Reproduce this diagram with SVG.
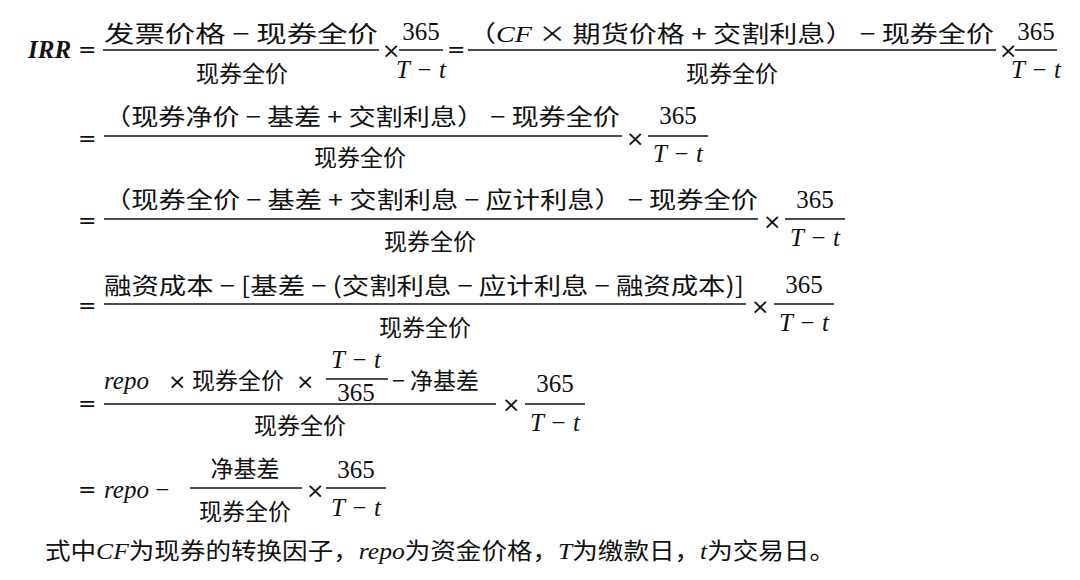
<svg xmlns="http://www.w3.org/2000/svg" width="1080" height="580" viewBox="0 0 1080 580">
<style>
text{font-family:"Liberation Serif","Noto Sans CJK SC",serif;font-size:25px;fill:#111}
.c{font-family:"Noto Sans CJK SC","Liberation Sans",sans-serif;font-size:23px}
.o{font-family:"DejaVu Sans",sans-serif;font-size:22px}
.i{font-style:italic}
.m{text-anchor:middle}
line{stroke:#111;stroke-width:1.6}
</style>
<rect width="1080" height="580" fill="#fff"/>
<g id="line1">
<text x="28" y="58" font-weight="bold" font-style="italic" font-size="26">IRR</text>
<text class="o" x="78" y="57">=</text>
<text class="c" x="104" y="42" textLength="274" lengthAdjust="spacingAndGlyphs">发票价格 − 现券全价</text>
<line x1="103" y1="50" x2="379" y2="50"/>
<text class="c m" x="242" y="82">现券全价</text>
<text class="o" x="382" y="58">×</text>
<text class="m" x="421" y="40">365</text>
<line x1="399" y1="50" x2="443" y2="50"/>
<text class="m i" x="421" y="78">T − t</text>
<text class="o" x="447" y="57">=</text>
<text class="c" x="468" y="42" textLength="526" lengthAdjust="spacingAndGlyphs">（<tspan font-family="Liberation Serif" font-style="italic">CF</tspan> × 期货价格 + 交割利息） − 现券全价</text>
<line x1="468" y1="50" x2="996" y2="50"/>
<text class="c m" x="732" y="82">现券全价</text>
<text class="o" x="999" y="58">×</text>
<text class="m" x="1036" y="40">365</text>
<line x1="1015" y1="50" x2="1057" y2="50"/>
<text class="m i" x="1036" y="78">T − t</text>
</g>
<g id="line2">
<text class="o" x="78" y="146">=</text>
<text class="c" x="104" y="125" textLength="516" lengthAdjust="spacingAndGlyphs">（现券净价 − 基差 + 交割利息） − 现券全价</text>
<line x1="104" y1="136" x2="622" y2="136"/>
<text class="c m" x="360" y="166">现券全价</text>
<text class="o" x="626" y="146">×</text>
<text class="m" x="678" y="124">365</text>
<line x1="648" y1="136" x2="708" y2="136"/>
<text class="m i" x="678" y="162">T − t</text>
</g>
<g id="line3">
<text class="o" x="78" y="228">=</text>
<text class="c" x="104" y="208" textLength="654" lengthAdjust="spacingAndGlyphs">（现券全价 − 基差 + 交割利息 − 应计利息） − 现券全价</text>
<line x1="104" y1="219" x2="758" y2="219"/>
<text class="c m" x="430" y="250">现券全价</text>
<text class="o" x="763" y="229">×</text>
<text class="m" x="815" y="208">365</text>
<line x1="785" y1="219" x2="845" y2="219"/>
<text class="m i" x="815" y="246">T − t</text>
</g>
<g id="line4">
<text class="o" x="78" y="313">=</text>
<text class="c" x="104" y="294" textLength="640" lengthAdjust="spacingAndGlyphs">融资成本 − [基差 − (交割利息 − 应计利息 − 融资成本)]</text>
<line x1="104" y1="304" x2="746" y2="304"/>
<text class="c m" x="425" y="336">现券全价</text>
<text class="o" x="751" y="314">×</text>
<text class="m" x="804" y="293">365</text>
<line x1="774" y1="304" x2="834" y2="304"/>
<text class="m i" x="804" y="331">T − t</text>
</g>
<g id="line5">
<text class="o" x="78" y="411">=</text>
<text x="104" y="389" font-style="italic">repo</text>
<text class="o" x="168" y="389">×</text>
<text class="c" x="192" y="389">现券全价</text>
<text class="o" x="296" y="389">×</text>
<text class="m i" x="356" y="368">T − t</text>
<line x1="326" y1="379" x2="388" y2="379"/>
<text class="m" x="356" y="401">365</text>
<text class="c" x="392" y="389">− 净基差</text>
<line x1="104" y1="404" x2="496" y2="404"/>
<text class="c m" x="300" y="434">现券全价</text>
<text class="o" x="502" y="412">×</text>
<text class="m" x="555" y="392">365</text>
<line x1="525" y1="404" x2="585" y2="404"/>
<text class="m i" x="555" y="431">T − t</text>
</g>
<g id="line6">
<text class="o" x="78" y="497">=</text>
<text x="104" y="498"><tspan font-style="italic">repo</tspan> −</text>
<text class="c m" x="245" y="477">净基差</text>
<line x1="190" y1="488" x2="302" y2="488"/>
<text class="c m" x="245" y="520">现券全价</text>
<text class="o" x="306" y="498">×</text>
<text class="m" x="356" y="478">365</text>
<line x1="326" y1="488" x2="386" y2="488"/>
<text class="m i" x="356" y="516">T − t</text>
</g>
<g id="note">
<text class="c" x="45" y="559" font-size="21" textLength="790" lengthAdjust="spacingAndGlyphs">式中<tspan font-family="Liberation Serif" font-style="italic">CF</tspan>为现券的转换因子，<tspan font-family="Liberation Serif" font-style="italic">repo</tspan>为资金价格，<tspan font-family="Liberation Serif" font-style="italic">T</tspan>为缴款日，<tspan font-family="Liberation Serif" font-style="italic">t</tspan>为交易日。</text>
</g>
</svg>
